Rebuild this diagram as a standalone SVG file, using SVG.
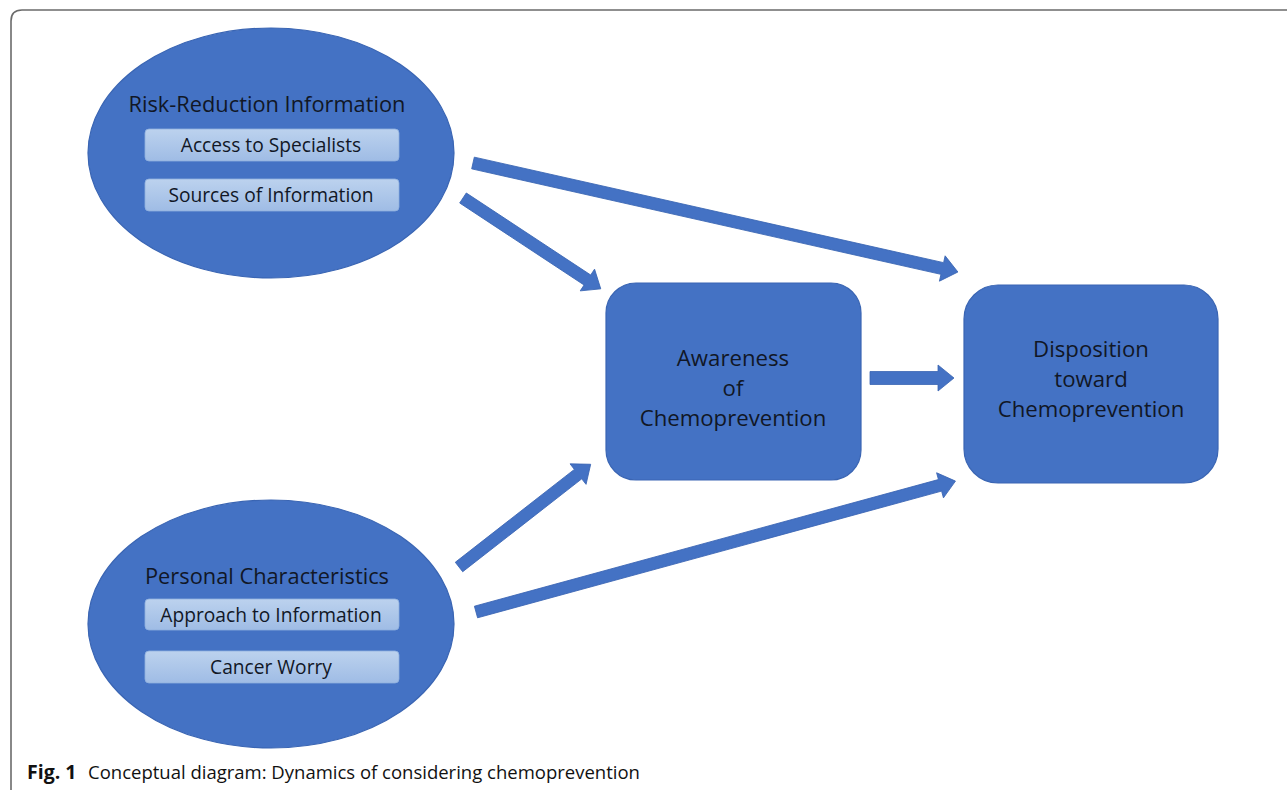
<svg xmlns="http://www.w3.org/2000/svg" width="1287" height="790" viewBox="0 0 1287 790">
  <defs>
    <linearGradient id="subg" x1="0" y1="0" x2="0" y2="1">
      <stop offset="0" stop-color="#bcd2ee"/>
      <stop offset="1" stop-color="#9fbce5"/>
    </linearGradient>
  </defs>
  <style>
    .blob { fill: #4472c4; stroke: #3a65b3; stroke-width: 1.2; }
    .sub { fill: url(#subg); stroke: #8fb0de; stroke-width: 0.8; }
    .t { font-family: "Open Sans", "Liberation Sans", Arial, sans-serif; fill: #111726; text-anchor: middle; }
    .title { font-size: 21.8px; }
    .subt { font-size: 19.2px; }
    .box { font-size: 22.2px; }
    .arrow { fill: #4472c4; stroke: #3a65b3; stroke-width: 0.8; }
    .cap { font-family: "Open Sans", "Liberation Sans", sans-serif; font-size: 18.5px; fill: #111; }
  </style>
  <rect width="1287" height="790" fill="#ffffff"/>
  <path d="M11,790 L11,21 Q11,10 22,10 L1287,10" fill="none" stroke="#6b6b6b" stroke-width="1.6"/>

  <g id="risk-reduction">
    <ellipse class="blob" cx="271" cy="153" rx="183" ry="125"/>
    <text class="t title" x="267" y="112">Risk-Reduction Information</text>
    <rect class="sub" x="145" y="129" width="254" height="32" rx="4"/>
    <text class="t subt" x="271" y="152">Access to Specialists</text>
    <rect class="sub" x="145" y="179" width="254" height="32" rx="4"/>
    <text class="t subt" x="271" y="202">Sources of Information</text>
  </g>

  <g id="personal">
    <ellipse class="blob" cx="271" cy="624" rx="183" ry="124"/>
    <text class="t title" x="267" y="584">Personal Characteristics</text>
    <rect class="sub" x="145" y="599" width="254" height="31" rx="4"/>
    <text class="t subt" x="271" y="622">Approach to Information</text>
    <rect class="sub" x="145" y="651" width="254" height="32" rx="4"/>
    <text class="t subt" x="271" y="674">Cancer Worry</text>
  </g>

  <g id="awareness">
    <rect class="blob" x="606" y="283" width="255" height="197" rx="30"/>
    <text class="t box" x="733" y="366">Awareness</text>
    <text class="t box" x="733" y="396">of</text>
    <text class="t box" x="733" y="426">Chemoprevention</text>
  </g>

  <g id="disposition">
    <rect class="blob" x="964" y="285" width="254" height="198" rx="34"/>
    <text class="t box" x="1091" y="357">Disposition</text>
    <text class="t box" x="1091" y="387">toward</text>
    <text class="t box" x="1091" y="417">Chemoprevention</text>
  </g>

  <g id="connectors">
    <path class="arrow" transform="translate(463,198) rotate(33.4)" d="M0,-6 L149,-6 L149,-13 L165,0 L149,13 L149,6 L0,6 Z"/>
    <path class="arrow" transform="translate(473,163) rotate(12.67)" d="M0,-6 L481,-6 L481,-13 L497,0 L481,13 L481,6 L0,6 Z"/>
    <path class="arrow" transform="translate(870,378)" d="M0,-6.5 L68,-6.5 L68,-13 L84,0 L68,13 L68,6.5 L0,6.5 Z"/>
    <path class="arrow" transform="translate(459,567) rotate(-37.96)" d="M0,-6 L151,-6 L151,-13 L167,0 L151,13 L151,6 L0,6 Z"/>
    <path class="arrow" transform="translate(476,612) rotate(-15.27)" d="M0,-6 L481,-6 L481,-13 L497,0 L481,13 L481,6 L0,6 Z"/>
  </g>

  <g id="caption">
    <text class="cap" x="27" y="779"><tspan font-weight="bold" font-size="19.5">Fig. 1</tspan><tspan x="88">Conceptual diagram: Dynamics of considering chemoprevention</tspan></text>
  </g>
</svg>
